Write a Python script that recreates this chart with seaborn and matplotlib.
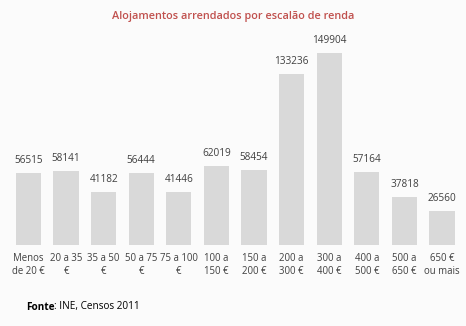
import matplotlib
matplotlib.use("Agg")
import matplotlib.pyplot as plt
import seaborn as sns
import pandas as pd

categories = ["Menos\nde 20 €", "20 a 35\n€", "35 a 50\n€", "50 a 75\n€", "75 a 100\n€",
              "100 a\n150 €", "150 a\n200 €", "200 a\n300 €", "300 a\n400 €", "400 a\n500 €",
              "500 a\n650 €", "650 €\nou mais"]
values = [56515, 58141, 41182, 56444, 41446, 62019, 58454, 133236, 149904, 57164, 37818, 26560]

df = pd.DataFrame({"cat": categories, "val": values})

sns.set_theme(style="white")
plt.rcParams['font.family'] = ['Open Sans', 'DejaVu Sans']

bg = "#fbfbfb"
fig = plt.figure(figsize=(4.66, 3.26), dpi=100, facecolor=bg)
ax = fig.add_axes([9.7/466, 1-245/326, (460.8-9.7)/466, 215.2/326])
ax.set_facecolor(bg)

sns.barplot(data=df, x="cat", y="val", color="#d9d9d9", width=0.67, saturation=1,
            linewidth=0, ax=ax)
ax.set_ylim(0, 168000)
ax.set_xlim(-0.5, len(categories)-0.5)
for sp in ax.spines.values():
    sp.set_visible(False)
ax.set_yticks([])
ax.set_xlabel("")
ax.set_ylabel("")
ax.tick_params(axis='x', length=0, pad=6, labelsize=6.9, colors="#404040")
for lbl in ax.get_xticklabels():
    lbl.set_linespacing(1.25)

for i, v in enumerate(values):
    ax.annotate(str(v), (i, v), xytext=(0, 5), textcoords="offset points",
                ha="center", va="bottom", fontsize=7.2, color="#404040")

fig.text(0.5, 1-16/326, "Alojamentos arrendados por escalão de renda", ha="center", va="center",
         fontsize=7.8, fontweight="semibold", color="#c0504d")
t1 = fig.text(26/466, 1-307/326, "Fonte", ha="left", va="center", fontsize=7.2,
              fontweight="bold", color="black")
ax.annotate(": INE, Censos 2011", xy=(1, 0.5), xycoords=t1, ha="left", va="center",
            fontsize=7.2, color="black", annotation_clip=False)

fig.savefig("out.png", dpi=100, facecolor=bg)
